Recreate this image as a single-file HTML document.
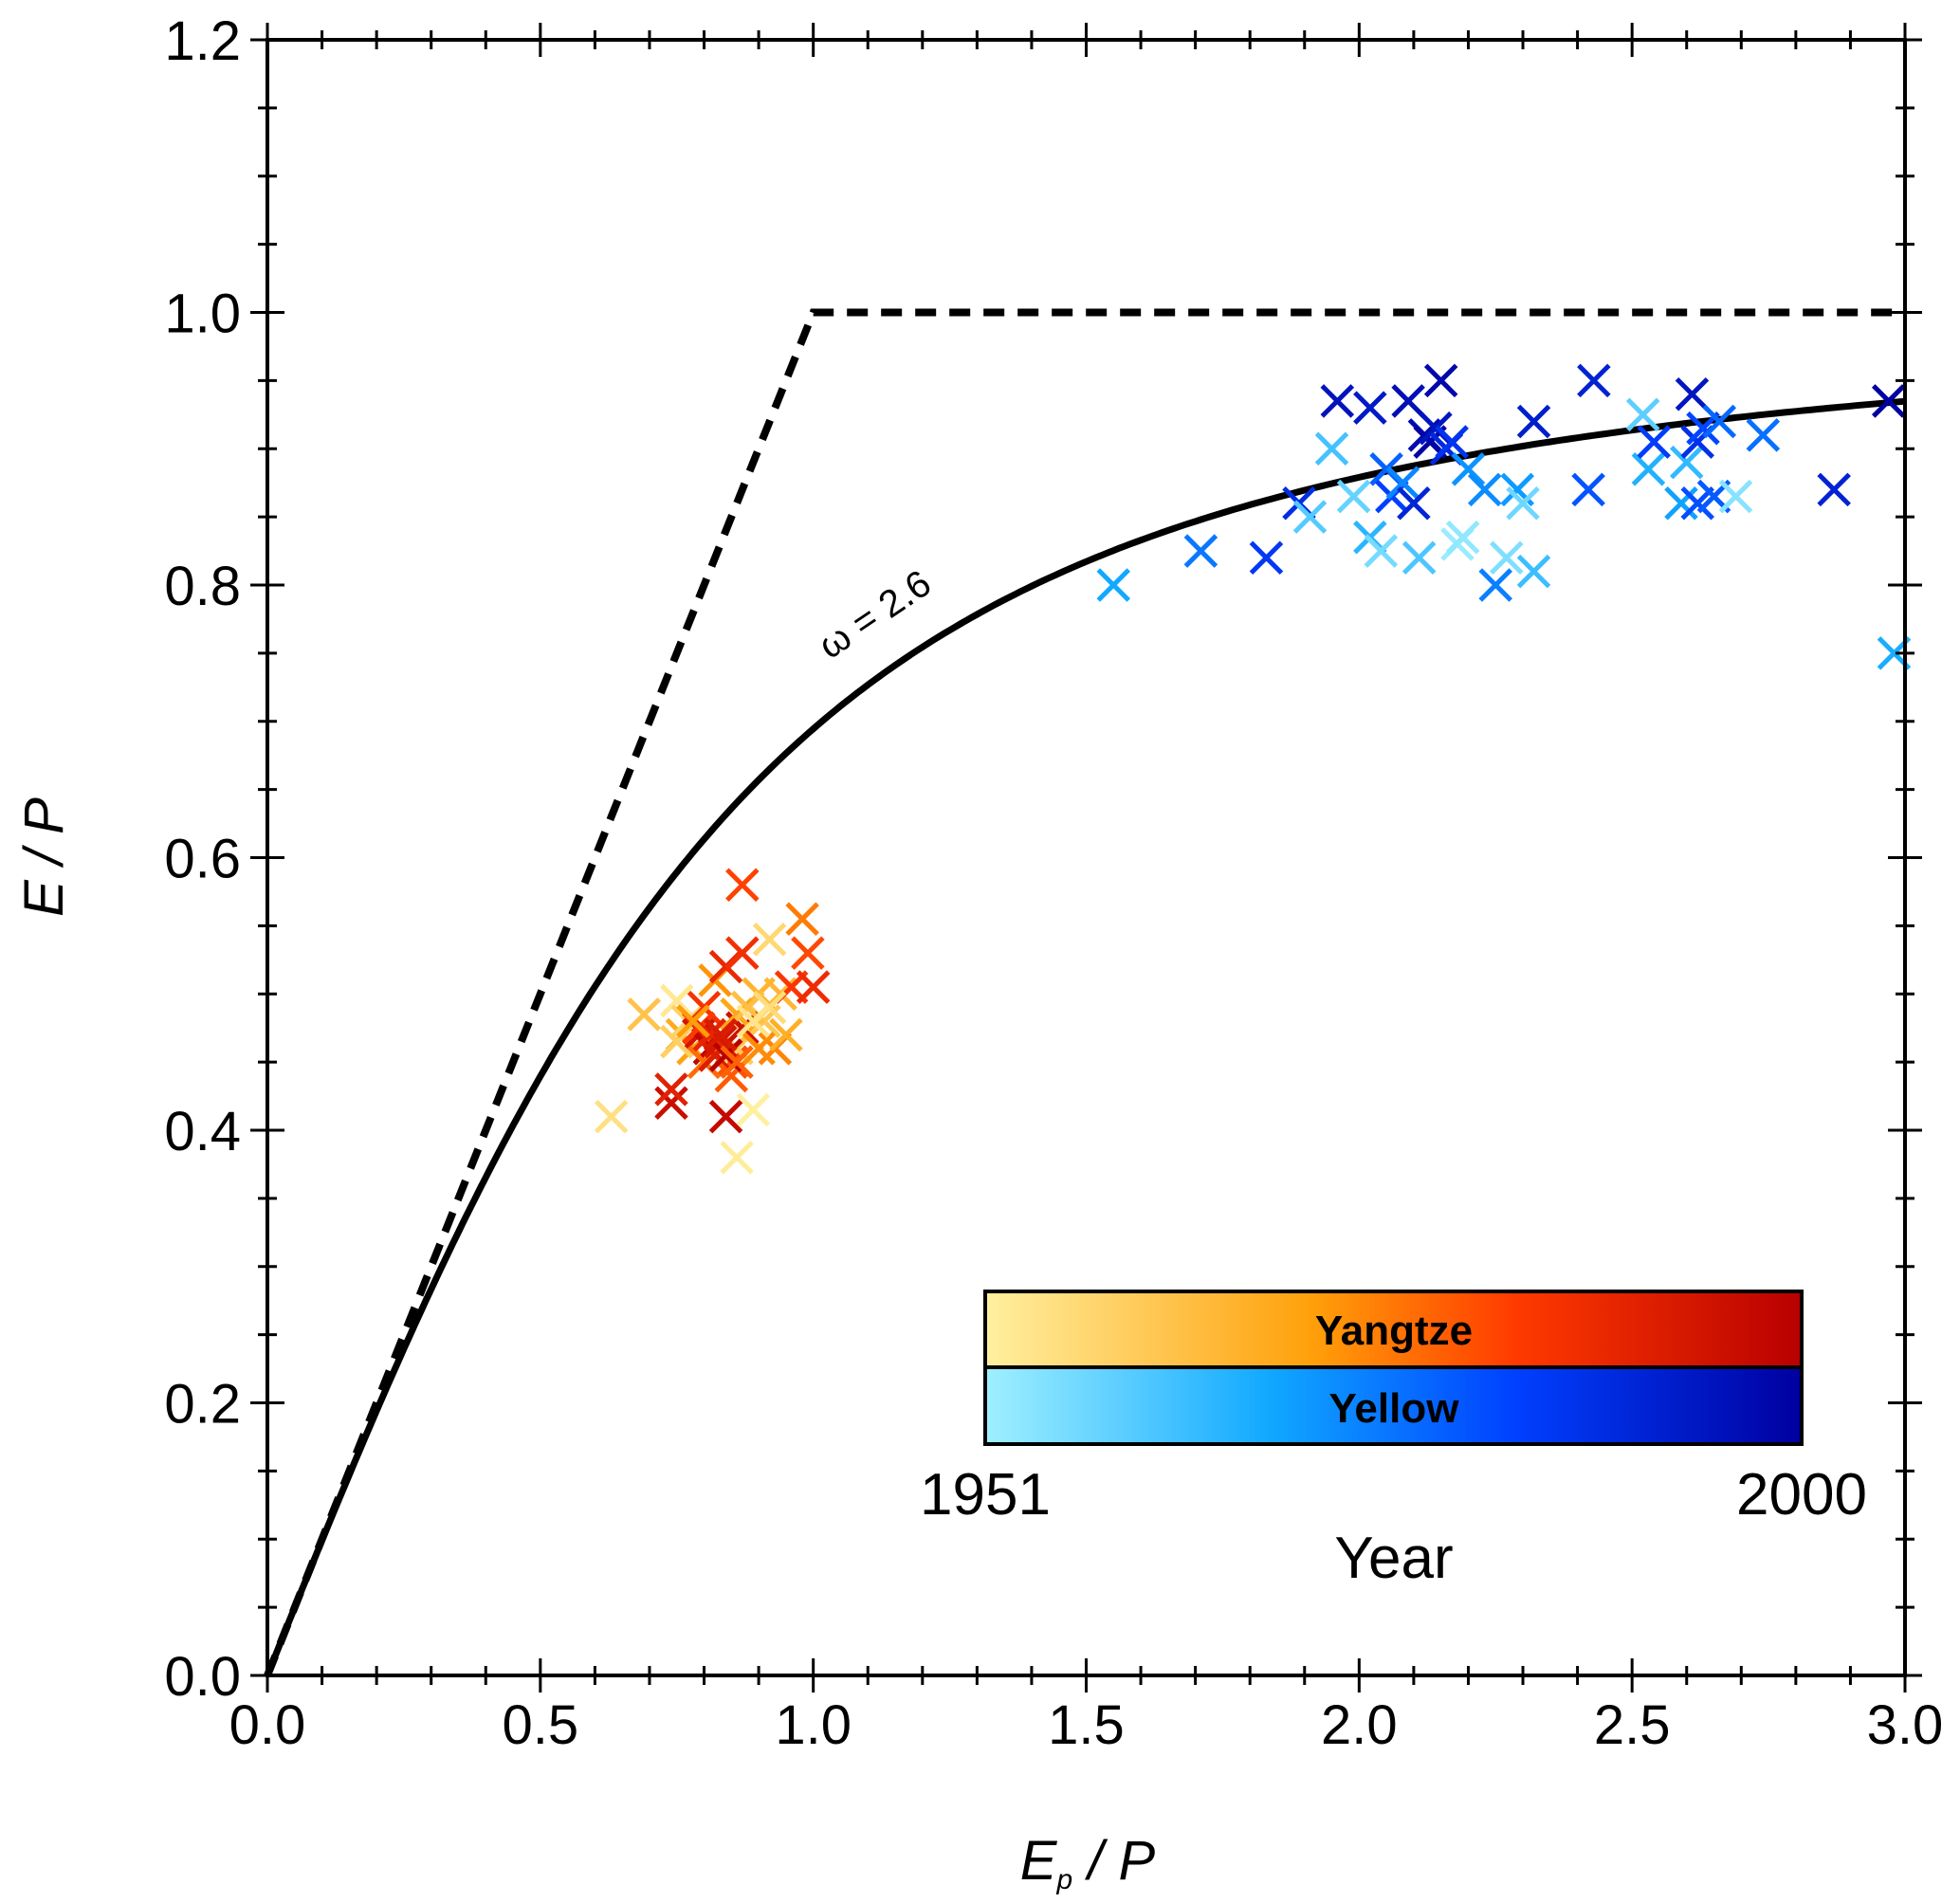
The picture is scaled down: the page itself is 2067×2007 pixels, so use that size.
<!DOCTYPE html>
<html><head><meta charset="utf-8"><style>
html,body{margin:0;padding:0;background:#fff;}
svg{display:block;}
text{font-family:"Liberation Sans Narrow","Liberation Sans",sans-serif;fill:#000;}
</style></head><body>
<svg id="chart" width="2067" height="2007" viewBox="0 0 2067 2007" xmlns="http://www.w3.org/2000/svg">
<defs>
<linearGradient id="gY" x1="0" x2="1" y1="0" y2="0">
<stop offset="0" stop-color="#fff0a0"/><stop offset="0.4" stop-color="#ffa00a"/><stop offset="0.65" stop-color="#ff3a00"/><stop offset="1" stop-color="#b80000"/></linearGradient>
<linearGradient id="gB" x1="0" x2="1" y1="0" y2="0">
<stop offset="0" stop-color="#a0f0ff"/><stop offset="0.35" stop-color="#10a8ff"/><stop offset="0.65" stop-color="#0040ff"/><stop offset="1" stop-color="#0000a0"/></linearGradient>
</defs>
<g id="marks"></g>
<g id="axes"></g>
</svg>
<script>
// Data
const xTicks=[0,0.5,1.0,1.5,2.0,2.5,3.0];
const xTickLabels=["0.0","0.5","1.0","1.5","2.0","2.5","3.0"];
const yTicks=[0,0.2,0.4,0.6,0.8,1.0,1.2];
const yTickLabels=["0.0","0.2","0.4","0.6","0.8","1.0","1.2"];
const omega=2.6;
const yangtzeX=[0.63,0.69,0.74,0.74,0.75,0.76,0.77,0.78,0.79,0.80,0.81,0.82,0.83,0.84,0.84,0.85,0.86,0.86,0.87,0.87,0.88,0.88,0.89,0.90,0.91,0.92,0.93,0.94,0.95,0.96,0.98,0.99,1.00,0.80,0.82,0.85,0.87,0.79,0.83,0.86,0.75,0.81,0.84,0.88,0.90,0.78,0.92,0.83,0.86,0.89];
const yangtzeY=[0.41,0.485,0.42,0.43,0.495,0.47,0.48,0.46,0.47,0.49,0.46,0.51,0.47,0.52,0.41,0.45,0.46,0.38,0.53,0.58,0.49,0.47,0.415,0.50,0.48,0.54,0.46,0.50,0.47,0.505,0.555,0.53,0.505,0.45,0.455,0.44,0.475,0.475,0.465,0.485,0.465,0.47,0.455,0.49,0.46,0.48,0.49,0.47,0.45,0.48];
const yangtzeYear=[1955,1962,1996,1990,1953,1968,1958,1970,1994,1985,1998,1972,1999,1988,1997,1980,1960,1952,1986,1982,1976,1964,1951,1966,1961,1957,1974,1965,1967,1984,1975,1981,1987,1977,1991,1979,1995,1983,1993,1969,1959,1989,2000,1963,1973,1971,1956,1992,1978,1954];
const yellowX=[1.55,1.71,1.83,1.89,1.91,1.95,1.96,1.99,2.02,2.02,2.04,2.05,2.06,2.08,2.09,2.10,2.11,2.12,2.13,2.14,2.15,2.16,2.17,2.18,2.19,2.20,2.23,2.25,2.27,2.29,2.30,2.32,2.32,2.42,2.43,2.52,2.53,2.54,2.59,2.60,2.61,2.62,2.62,2.63,2.65,2.66,2.69,2.74,2.87,2.97,2.98];
const yellowY=[0.80,0.825,0.82,0.86,0.85,0.90,0.935,0.865,0.93,0.835,0.825,0.885,0.865,0.875,0.935,0.86,0.82,0.91,0.905,0.915,0.95,0.90,0.905,0.83,0.835,0.885,0.87,0.80,0.82,0.87,0.86,0.81,0.92,0.87,0.95,0.925,0.885,0.905,0.86,0.89,0.94,0.86,0.905,0.915,0.865,0.92,0.865,0.91,0.87,0.935,0.75];
const yellowYear=[1968,1975,1985,1988,1960,1962,1995,1958,1993,1965,1956,1978,1983,1973,1996,1990,1961,1997,1999,1994,1998,1989,1986,1952,1953,1971,1972,1974,1955,1970,1957,1963,1992,1980,1991,1959,1966,1984,1969,1964,1994,1981,1987,1982,1979,1977,1954,1976,1991,2000,1967];

const NS="http://www.w3.org/2000/svg";
const L=282,R=2009,T=42,B=1767,XMAX=3,YMAX=1.2;
const sx=v=>L+v/XMAX*(R-L);
const sy=v=>B-v/YMAX*(B-T);
function mk(tag,attrs,parent){const e=document.createElementNS(NS,tag);for(const k in attrs)e.setAttribute(k,attrs[k]);parent.appendChild(e);return e;}
const marks=document.getElementById('marks'),axes=document.getElementById('axes');
function lerpStops(stops,t){for(let i=0;i<stops.length-1;i++){if(t<=stops[i+1][0]){const a=stops[i],b=stops[i+1],f=(t-a[0])/(b[0]-a[0]);return 'rgb('+[0,1,2].map(j=>Math.round(a[1][j]+(b[1][j]-a[1][j])*f)).join(',')+')';}}const s=stops[stops.length-1][1];return 'rgb('+s.join(',')+')';}
const warm=[[0,[255,240,160]],[0.4,[255,160,10]],[0.65,[255,58,0]],[1,[184,0,0]]];
const cool=[[0,[160,240,255]],[0.35,[16,168,255]],[0.65,[0,64,255]],[1,[0,0,160]]];

const lim=mk('polyline',{points:`${sx(0)},${sy(0)} ${sx(1)},${sy(1)} ${sx(3)},${sy(1)}`,fill:'none',stroke:'#000','stroke-width':8,'stroke-dasharray':'22,14'},marks);


let pts=[];for(let i=0;i<=300;i++){const x=i/300*3;const y=1+x-Math.pow(1+Math.pow(x,omega),1/omega);pts.push(sx(x).toFixed(1)+','+sy(y).toFixed(1));}
const fu=mk('polyline',{points:pts.join(' '),fill:'none',stroke:'#000','stroke-width':7},marks);


const om=mk('text',{x:0,y:0,'font-size':40,transform:`translate(${sx(1.03)},${sy(0.745)}) rotate(-34)`},marks);
om.textContent='ω = 2.6';



function cross(x,y,c,name){const g=mk('g',{stroke:c,'stroke-width':5},marks);const X=sx(x),Y=sy(y),h=16;
mk('line',{x1:X-h,y1:Y-h,x2:X+h,y2:Y+h},g);mk('line',{x1:X-h,y1:Y+h,x2:X+h,y2:Y-h},g);

}
yangtzeX.forEach((x,i)=>cross(x,yangtzeY[i],lerpStops(warm,(yangtzeYear[i]-1951)/49),'yangtze-point'));
yellowX.forEach((x,i)=>cross(x,yellowY[i],lerpStops(cool,(yellowYear[i]-1951)/49),'yellow-point'));

const fr=mk('rect',{x:L,y:T,width:R-L,height:B-T,fill:'none',stroke:'#000','stroke-width':4},axes);


for(let v=0;v<=3.0001;v+=0.1){const X=sx(v);const maj=Math.abs(v*2-Math.round(v*2))<1e-6;const len=maj?18:10;
mk('line',{x1:X,y1:B-len,x2:X,y2:B+len,stroke:'#000','stroke-width':3},axes);
mk('line',{x1:X,y1:T-len,x2:X,y2:T+len,stroke:'#000','stroke-width':3},axes);}
for(let v=0;v<=1.2001;v+=0.05){const Y=sy(v);const maj=Math.abs(v*5-Math.round(v*5))<1e-6;const len=maj?18:10;
mk('line',{x1:L-len,y1:Y,x2:L+len,y2:Y,stroke:'#000','stroke-width':3},axes);
mk('line',{x1:R-len,y1:Y,x2:R+len,y2:Y,stroke:'#000','stroke-width':3},axes);}
xTicks.forEach((v,i)=>{const t=mk('text',{x:sx(v),y:B+72,'font-size':58,'text-anchor':'middle'},axes);t.textContent=xTickLabels[i];

});
yTicks.forEach((v,i)=>{const t=mk('text',{x:L-28,y:sy(v)+21,'font-size':58,'text-anchor':'end'},axes);t.textContent=yTickLabels[i];

});
</script>
<svg style="position:absolute;left:0;top:0" width="2067" height="2007">
<g><text x="1147" y="1982" font-size="58" text-anchor="middle" font-style="italic" style="font-family:'Liberation Sans',sans-serif">E<tspan font-size="30" dy="10">p</tspan><tspan dy="-10"> / P</tspan></text></g>
<text x="0" y="0" font-size="58" font-style="italic" text-anchor="middle" transform="translate(66,904) rotate(-90)" style="font-family:'Liberation Sans',sans-serif">E / P</text>
<g>
<rect x="1039" y="1362" width="861" height="80" fill="url(#gY)" stroke="#000" stroke-width="4"/>
<rect x="1039" y="1442" width="861" height="81" fill="url(#gB)" stroke="#000" stroke-width="4"/>
<text x="1470" y="1418" font-size="44" font-weight="bold" text-anchor="middle">Yangtze</text>
<text x="1470" y="1500" font-size="44" font-weight="bold" text-anchor="middle">Yellow</text>
<text x="1039" y="1597" font-size="62" text-anchor="middle">1951</text>
<text x="1900" y="1597" font-size="62" text-anchor="middle">2000</text>
<text x="1470" y="1664" font-size="62" text-anchor="middle">Year</text>
</g>
</svg>
</body></html>
